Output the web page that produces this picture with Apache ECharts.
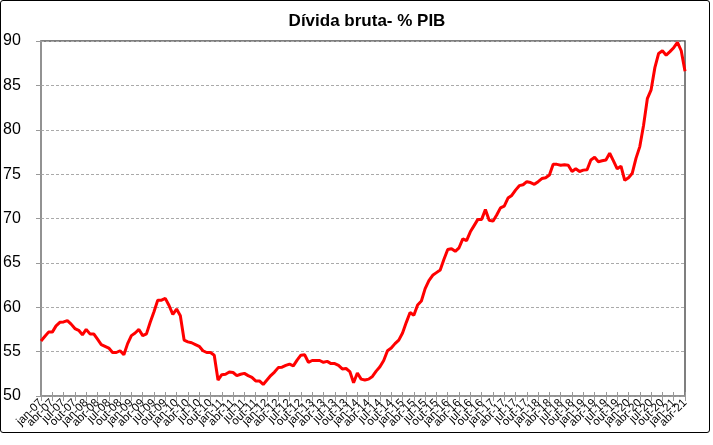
<!DOCTYPE html>
<html lang="pt-BR">
<head>
    <meta charset="utf-8">
    <title>Dívida bruta - % PIB</title>
    <script src="https://cdn.jsdelivr.net/npm/echarts@6/dist/echarts.min.js"></script>
    <style>
        html, body { margin: 0; padding: 0; background: #fff; }
        #frame {
            position: absolute; left: 0; top: 0;
            width: 708px; height: 431px;
            border: 1.5px solid #000; border-radius: 3px;
        }
        #main { position: absolute; left: 0; top: 0; width: 713px; height: 445px; }
    </style>
</head>
<body>
    <div id="frame"></div>
    <div id="main"></div>
    <script type="text/javascript">
        // meses e anos para montar as categorias (jan/07 .. abr/21)
        var monthNames = ['jan', 'fev', 'mar', 'abr', 'mai', 'jun', 'jul', 'ago', 'set', 'out', 'nov', 'dez'];
        var firstYear = 2007;

        // dívida bruta em % do PIB, mensal
        var debt2007_2010 = [
            56.2, 56.7, 57.2, 57.2, 57.9, 58.3, 58.35, 58.5, 58.1, 57.6, 57.4, 56.9,
            57.5, 57.0, 57.0, 56.4, 55.8, 55.6, 55.4, 54.9, 54.9, 55.1, 54.65, 55.9,
            56.8, 57.1, 57.5, 56.8, 57.0, 58.3, 59.5, 60.8, 60.8, 61.0, 60.2, 59.2,
            59.8, 59.05, 56.3, 56.1, 56.0, 55.8, 55.6, 55.1, 54.9, 54.9, 54.6, 51.8
        ];
        var debt2011_2014 = [
            52.4, 52.45, 52.7, 52.65, 52.3, 52.45, 52.55, 52.3, 52.1, 51.7, 51.7, 51.3,
            51.8, 52.3, 52.7, 53.2, 53.25, 53.45, 53.6, 53.4, 54.05, 54.6, 54.65, 53.8,
            54.0, 54.0, 54.0, 53.8, 53.9, 53.65, 53.65, 53.45, 53.05, 53.1, 52.75, 51.5,
            52.6, 51.9, 51.8, 51.9, 52.2, 52.8, 53.3, 54.0, 55.1, 55.4, 55.9, 56.3
        ];
        var debt2015_2018 = [
            57.1, 58.3, 59.4, 59.1, 60.25, 60.7, 62.1, 63.0, 63.6, 63.9, 64.2, 65.4,
            66.5, 66.6, 66.3, 66.7, 67.7, 67.5, 68.5, 69.2, 69.9, 69.9, 71.0, 69.8,
            69.7, 70.4, 71.2, 71.4, 72.3, 72.6, 73.2, 73.7, 73.8, 74.15, 74.05, 73.85,
            74.15, 74.5, 74.6, 74.9, 76.1, 76.1, 76.0, 76.05, 76.0, 75.3, 75.6, 75.3
        ];
        var debt2019_2021 = [
            75.45, 75.5, 76.6, 76.9, 76.4, 76.5, 76.6, 77.35, 76.5, 75.6, 75.9, 74.3,
            74.6, 75.1, 76.8, 78.1, 80.5, 83.5, 84.5, 87.0, 88.6, 88.9, 88.4, 88.8,
            89.25, 89.85, 88.9, 86.6
        ];

        var values = debt2007_2010.concat(debt2011_2014, debt2015_2018, debt2019_2021);

        var categories = [];
        for (var i = 0; i < values.length; i++) {
            var yy = firstYear + Math.floor(i / 12);
            categories.push(monthNames[i % 12] + '-' + String(yy).slice(2));
        }

        var myChart = echarts.init(document.getElementById('main'));

        var option = {
            animation: false,
            title: {
                text: 'Dívida bruta- % PIB',
                left: 362,
                top: 8,
                textAlign: 'center',
                textStyle: {
                    fontFamily: 'Liberation Sans, Arial, sans-serif',
                    fontSize: 17,
                    fontWeight: 'bold',
                    color: '#000'
                }
            },
            grid: {
                left: 40,
                right: 28,
                top: 41,
                bottom: 49,
                show: true,
                borderColor: '#555',
                borderWidth: 1.5
            },
            xAxis: [{
                type: 'category',
                data: categories,
                boundaryGap: false,
                axisLine: { lineStyle: { color: '#999', width: 1.5 } },
                axisTick: { interval: 2, length: 5, lineStyle: { color: '#999' } },
                axisLabel: {
                    // todos os rótulos criados, só um a cada trimestre com texto
                    interval: 0,
                    formatter: function (value, idx) { return idx % 3 === 0 ? value : ''; },
                    rotate: 45,
                    margin: 5,
                    fontFamily: 'Liberation Sans, Arial, sans-serif',
                    fontSize: 11.5,
                    color: '#000'
                },
                splitLine: { show: false }
            }, {
                // só para os traços que cruzam o eixo para dentro
                type: 'category',
                data: categories,
                boundaryGap: false,
                position: 'bottom',
                axisLine: { show: false },
                axisTick: { interval: 2, inside: true, length: 4, lineStyle: { color: '#999' } },
                axisLabel: { show: false },
                splitLine: { show: false }
            }],
            yAxis: {
                type: 'value',
                min: 50,
                max: 90,
                interval: 5,
                axisLine: { show: true, lineStyle: { color: '#999', width: 1.5 } },
                axisTick: { show: true, length: 5, lineStyle: { color: '#999' } },
                axisLabel: {
                    margin: 19,
                    align: 'left',
                    padding: [0, 0, 0, -19],
                    fontFamily: 'Liberation Sans, Arial, sans-serif',
                    fontSize: 16,
                    color: '#000'
                },
                splitLine: {
                    lineStyle: { color: '#aaa', type: [3, 2], width: 1 }
                }
            },
            series: [{
                name: 'Dívida bruta',
                type: 'line',
                data: values,
                showSymbol: false,
                lineStyle: { color: '#ff0000', width: 3 },
                itemStyle: { color: '#ff0000' }
            }]
        };

        myChart.setOption(option);
    </script>
</body>
</html>
